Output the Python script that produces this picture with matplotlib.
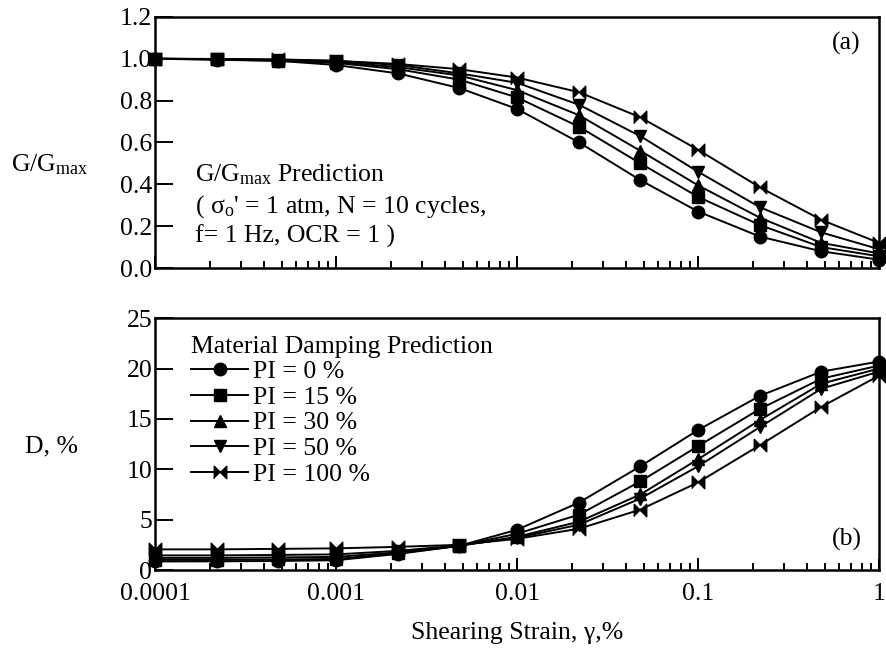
import numpy as np
import matplotlib
matplotlib.use("Agg")
import matplotlib.pyplot as plt

plt.rcParams["font.family"] = ["Liberation Serif", "DejaVu Serif"]
plt.rcParams["mathtext.fontset"] = "custom"
plt.rcParams["mathtext.rm"] = "Liberation Serif"
plt.rcParams["mathtext.it"] = "Liberation Serif:italic"

# Shearing strain (%) at which the curves are evaluated
strain = [0.0001, 0.00022, 0.00048, 0.001, 0.0022, 0.0048, 0.01,
          0.022, 0.048, 0.1, 0.22, 0.48, 1.0]

pi_labels = ["PI = 0 %", "PI = 15 %", "PI = 30 %", "PI = 50 %", "PI = 100 %"]

# Normalized modulus reduction G/Gmax
g_pi0 = [1.00, 0.995, 0.99, 0.97, 0.93, 0.86, 0.76, 0.60, 0.42, 0.27, 0.15, 0.08, 0.04]
g_pi15 = [1.00, 0.997, 0.99, 0.98, 0.95, 0.90, 0.815, 0.675, 0.50, 0.34, 0.205, 0.10, 0.056]
g_pi30 = [1.00, 0.998, 0.993, 0.985, 0.96, 0.92, 0.85, 0.73, 0.56, 0.395, 0.24, 0.12, 0.07]
g_pi50 = [1.00, 0.998, 0.995, 0.99, 0.97, 0.93, 0.885, 0.78, 0.63, 0.46, 0.29, 0.17, 0.09]
g_pi100 = [1.00, 0.999, 0.997, 0.99, 0.975, 0.95, 0.91, 0.84, 0.72, 0.565, 0.385, 0.23, 0.12]

# Material damping ratio D (%)
d_pi0 = [0.85, 0.86, 0.90, 0.97, 1.6, 2.4, 4.0, 6.7, 10.3, 13.9, 17.3, 19.7, 20.7]
d_pi15 = [1.0, 1.0, 1.05, 1.1, 1.65, 2.4, 3.6, 5.5, 8.8, 12.3, 16.0, 19.0, 20.3]
d_pi30 = [1.2, 1.2, 1.25, 1.3, 1.75, 2.4, 3.3, 4.8, 7.5, 11.0, 14.9, 18.5, 20.0]
d_pi50 = [1.45, 1.45, 1.5, 1.55, 1.9, 2.45, 3.2, 4.5, 7.1, 10.3, 14.2, 18.0, 19.7]
d_pi100 = [2.05, 2.05, 2.1, 2.15, 2.3, 2.5, 3.1, 4.1, 6.0, 8.7, 12.4, 16.2, 19.3]

g_curves = [g_pi0, g_pi15, g_pi30, g_pi50, g_pi100]
d_curves = [d_pi0, d_pi15, d_pi30, d_pi50, d_pi100]

x_ticks = [0.0001, 0.001, 0.01, 0.1, 1]
x_ticklabels = ["0.0001", "0.001", "0.01", "0.1", "1"]

# two triangles pointing at each other
bowtie = [(-1, -1), (-1, 1), (0, 0), (1, 1), (1, -1), (0, 0)]
markers = ["o", "s", "^", "v", bowtie]

FS = 18.5


def style_axes(ax, show_xlabels):
    ax.set_xscale("log")
    ax.set_xlim(1e-4, 1)
    for sp in ax.spines.values():
        sp.set_linewidth(1.8)
    ax.set_xticks(x_ticks)
    ax.set_xticklabels(x_ticklabels if show_xlabels else [])
    ax.tick_params(which="both", direction="in", top=False, right=False,
                   labelsize=FS, width=1.4)
    ax.tick_params(axis="x", which="major", length=9, pad=9)
    ax.tick_params(axis="x", which="minor", length=5)
    ax.tick_params(axis="y", which="major", length=13, pad=2)
    ax.tick_params(axis="y", which="minor", length=0)


def draw_curves(ax, curves):
    handles = []
    for vals, mk, lab in zip(curves, markers, pi_labels):
        h, = ax.plot(strain, vals, color="black", linewidth=1.4,
                     marker=mk, markersize=9, label=lab, clip_on=False)
        handles.append(h)
    return handles


fig = plt.figure(figsize=(8.86, 6.49), dpi=100)
ax_g = fig.add_axes([0.175, 0.587, 0.8172, 0.387])
ax_d = fig.add_axes([0.175, 0.1217, 0.8172, 0.388])

# (a) modulus reduction
draw_curves(ax_g, g_curves)
style_axes(ax_g, False)
ax_g.set_ylim(0, 1.2)
ax_g.set_yticks(np.arange(0, 1.21, 0.2))
ax_g.set_yticklabels([f"{v:.1f}" for v in np.arange(0, 1.21, 0.2)])
ax_g.set_ylabel("G/G$_{\\rm max}$", rotation=0, fontsize=FS, ha="center", va="center")
ax_g.yaxis.set_label_coords(-0.145, 0.41)
ax_g.text(0.955, 0.896, "(a)", transform=ax_g.transAxes, fontsize=FS,
          ha="center", va="center")
ax_g.text(0.055, 0.37, "G/G$_{\\rm max}$ Prediction", transform=ax_g.transAxes,
          fontsize=FS, ha="left", va="center")
ax_g.text(0.055, 0.243, "( σ$_{\\rm o}$' = 1 atm, N = 10 cycles,",
          transform=ax_g.transAxes, fontsize=FS, ha="left", va="center")
ax_g.text(0.055, 0.127, "f= 1 Hz, OCR = 1 )", transform=ax_g.transAxes,
          fontsize=FS, ha="left", va="center")

# (b) material damping
handles = draw_curves(ax_d, d_curves)
style_axes(ax_d, True)
ax_d.set_ylim(0, 25)
ax_d.set_yticks([0, 5, 10, 15, 20, 25])
ax_d.set_ylabel("D, %", rotation=0, fontsize=FS, ha="center", va="center")
ax_d.yaxis.set_label_coords(-0.143, 0.49)
ax_d.set_xlabel("Shearing Strain, γ,%", fontsize=FS, va="center")
ax_d.xaxis.set_label_coords(0.5, -0.25)
ax_d.text(0.955, 0.12, "(b)", transform=ax_d.transAxes, fontsize=FS,
          ha="center", va="center")
ax_d.legend(handles=handles, title="Material Damping Prediction",
            loc="upper left", bbox_to_anchor=(0.05, 0.93), frameon=False,
            fontsize=FS, title_fontsize=FS, alignment="left",
            handlelength=2.2, handletextpad=0.2, labelspacing=0.1,
            borderpad=0.0, borderaxespad=0.0)

fig.savefig("out.png", dpi=100)
